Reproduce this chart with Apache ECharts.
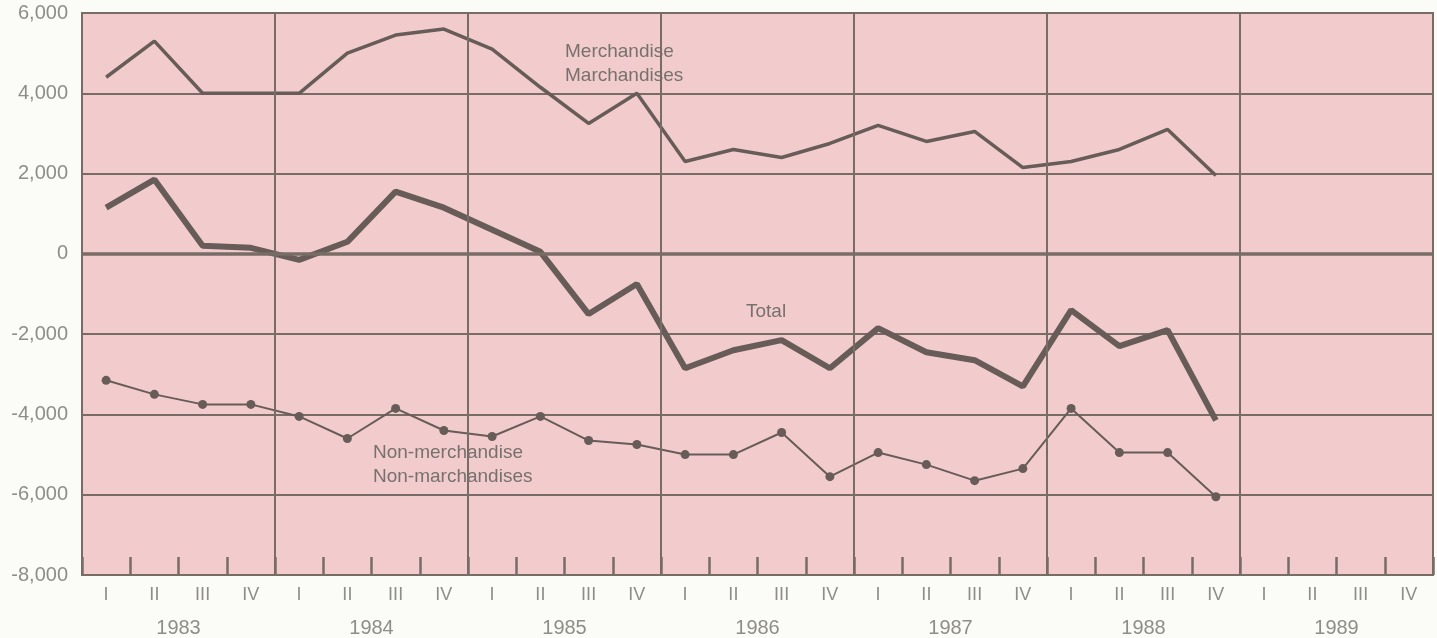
<!DOCTYPE html>
<html>
<head>
<meta charset="utf-8">
<script src="https://cdn.jsdelivr.net/npm/echarts@6/dist/echarts.min.js"></script>
<style>
  html, body { margin: 0; padding: 0; background: #fbfbf8; }
  #main { width: 1437px; height: 638px; }
</style>
</head>
<body>
<div id="main"></div>
<script>
// 数据
var years = ['1983', '1984', '1985', '1986', '1987', '1988', '1989'];
var quarters = ['I', 'II', 'III', 'IV'];
var merchandise = [4400, 5300, 4000, 4000, 4000, 5000, 5450, 5600, 5100, 4150, 3250, 4000, 2300, 2600, 2400, 2750, 3200, 2800, 3050, 2150, 2300, 2600, 3100, 1950, null, null, null, null];
var total = [1150, 1850, 200, 150, -150, 300, 1550, 1150, 600, 50, -1500, -750, -2850, -2400, -2150, -2850, -1850, -2450, -2650, -3300, -1400, -2300, -1900, -4150, null, null, null, null];
var nonMerchandise = [-3150, -3500, -3750, -3750, -4050, -4600, -3850, -4400, -4550, -4050, -4650, -4750, -5000, -5000, -4450, -5550, -4950, -5250, -5650, -5350, -3850, -4950, -4950, -6050, null, null, null, null];

var quarterLabels = [];
years.forEach(function () {
    quarters.forEach(function (q) { quarterLabels.push(q); });
});

var lineColor = '#675c58';
var gridColor = '#776c66';
var textColor = '#8e8d87';
var font = "'Liberation Sans', Arial, sans-serif";

var myChart = echarts.init(document.getElementById('main'));
var option = {
    animation: false,
    grid: {
        left: 82, right: 4, top: 13, bottom: 63,
        show: true,
        backgroundColor: '#f2cccd',
        borderColor: gridColor,
        borderWidth: 2
    },
    xAxis: [
        {
            type: 'category',
            data: quarterLabels,
            boundaryGap: true,
            axisLine: { show: true, onZero: false, lineStyle: { color: gridColor, width: 2 } },
            axisTick: {
                show: true, inside: true, length: 18, interval: 0,
                lineStyle: { color: gridColor, width: 2.5 }
            },
            axisLabel: {
                interval: 0, margin: 11, color: textColor,
                fontSize: 18, fontFamily: font
            },
            splitLine: {
                show: true,
                interval: function (index) { return index % 4 === 0; },
                lineStyle: { color: gridColor, width: 2 }
            },
            z: 5
        },
        {
            type: 'category',
            data: years,
            position: 'bottom',
            boundaryGap: true,
            axisLine: { show: false, onZero: false },
            axisTick: { show: false },
            axisLabel: {
                interval: 0, margin: 43, color: textColor,
                fontSize: 20, fontFamily: font
            },
            splitLine: { show: false }
        }
    ],
    yAxis: {
        type: 'value',
        min: -8000,
        max: 6000,
        interval: 2000,
        axisLine: { show: true, lineStyle: { color: gridColor, width: 2 } },
        axisTick: { show: false },
        axisLabel: {
            margin: 14, color: textColor, fontSize: 20, fontFamily: font,
            formatter: function (v) { return v.toLocaleString('en-US'); }
        },
        splitLine: { lineStyle: { color: gridColor, width: 2 } }
    },
    series: [
        {
            name: 'Merchandise',
            type: 'line',
            data: merchandise,
            showSymbol: false,
            symbol: 'none',
            lineStyle: { color: lineColor, width: 3.5 },
            z: 3
        },
        {
            name: 'Total',
            type: 'line',
            data: total,
            symbol: 'none',
            lineStyle: { color: lineColor, width: 6 },
            markLine: {
                silent: true,
                symbol: 'none',
                label: { show: false },
                lineStyle: { color: gridColor, width: 3.5, type: 'solid' },
                data: [{ yAxis: 0 }]
            },
            z: 4
        },
        {
            name: 'Non-merchandise',
            type: 'line',
            data: nonMerchandise,
            symbol: 'circle',
            symbolSize: 9,
            itemStyle: { color: lineColor },
            lineStyle: { color: lineColor, width: 2 },
            z: 3
        }
    ],
    graphic: [
        {
            type: 'text', left: 565, top: 40,
            style: { text: 'Merchandise\nMarchandises', fill: '#77716d', font: '19px ' + font, lineHeight: 24 }
        },
        {
            type: 'text', left: 746, top: 302,
            style: { text: 'Total', fill: '#77716d', font: '19px ' + font }
        },
        {
            type: 'text', left: 373, top: 441,
            style: { text: 'Non-merchandise\nNon-marchandises', fill: '#77716d', font: '19px ' + font, lineHeight: 24 }
        }
    ]
};
myChart.setOption(option);
window.onresize = function () {
    myChart.resize();
};
</script>
</body>
</html>
